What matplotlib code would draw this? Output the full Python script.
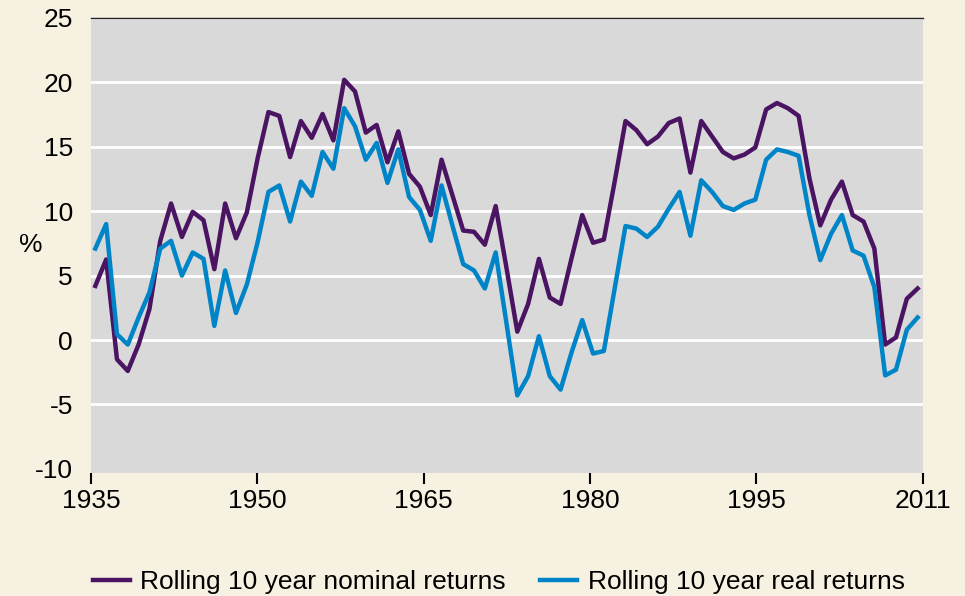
import numpy as np
import matplotlib
matplotlib.use("Agg")
from matplotlib import pyplot as plt

plt.rcParams['font.family'] = ['Liberation Sans', 'DejaVu Sans']

years = np.arange(1935, 2012)
nominal = [4.2, 6.25, -1.5, -2.4, -0.35, 2.4, 7.7, 10.6, 8.0, 9.95,
           9.3, 5.5, 10.6, 7.9, 9.9, 14.1, 17.7, 17.4, 14.2, 17.0,
           15.7, 17.55, 15.5, 20.2, 19.3, 16.1, 16.7, 13.8, 16.2, 12.9,
           11.9, 9.7, 14.0, 11.25, 8.5, 8.4, 7.4, 10.4, 5.6, 0.65,
           2.8, 6.3, 3.3, 2.8, 6.3, 9.7, 7.55, 7.8, 12.3, 17.0,
           16.3, 15.2, 15.8, 16.85, 17.2, 13.0, 17.0, 15.8, 14.6, 14.1,
           14.4, 14.95, 17.9, 18.4, 18.0, 17.4, 12.55, 8.9, 10.9, 12.3,
           9.7, 9.2, 7.1, -0.35, 0.2, 3.2, 4.0]
real = [7.1, 9.0, 0.45, -0.35, 1.75, 3.7, 7.1, 7.7, 5.0, 6.8,
        6.3, 1.1, 5.4, 2.1, 4.3, 7.6, 11.5, 12.0, 9.2, 12.3,
        11.2, 14.6, 13.3, 18.0, 16.6, 14.0, 15.3, 12.2, 14.8, 11.1,
        10.1, 7.7, 12.0, 8.9, 5.9, 5.4, 4.0, 6.8, 1.3, -4.3,
        -2.8, 0.3, -2.8, -3.85, -1.0, 1.55, -1.05, -0.85, 4.0, 8.85,
        8.65, 8.0, 8.8, 10.2, 11.5, 8.1, 12.4, 11.5, 10.4, 10.1,
        10.6, 10.9, 14.0, 14.8, 14.6, 14.3, 9.7, 6.2, 8.25, 9.7,
        6.95, 6.55, 4.1, -2.75, -2.3, 0.8, 1.75]
xtick_labels = ['1935', '1950', '1965', '1980', '1995', '2011']
ytick_values = [-10, -5, 0, 5, 10, 15, 20, 25]

purple = '#4a1462'
blue = '#0084c8'
cream = '#f7f1e1'

fig = plt.figure(figsize=(9.65, 5.96), dpi=100, facecolor=cream)
ax = fig.add_axes([91/965, 1-472.7/596, (922.5-91)/965, (472.7-18)/596])
ax.set_facecolor('#d9d9d9')

ax.plot(years, nominal, color=purple, lw=3.2, label='Rolling 10 year nominal returns', zorder=3)
ax.plot(years, real, color=blue, lw=3.2, label='Rolling 10 year real returns', zorder=3)

x0, x1 = 1934.6, 2011.45
ax.set_xlim(x0, x1)
ax.set_ylim(-10.3, 25)
ax.set_xticks(np.linspace(x0, x1, len(xtick_labels)))
ax.set_xticklabels(xtick_labels)
ax.set_yticks(ytick_values)
ax.set_yticklabels([str(v) for v in ytick_values])

ax.yaxis.grid(True, color='white', lw=2)
ax.set_axisbelow(True)
ax.yaxis.get_gridlines()[0].set_visible(False)

for s in ['left', 'right', 'bottom']:
    ax.spines[s].set_visible(False)
ax.spines['top'].set_color('#222222')
ax.spines['top'].set_linewidth(1)

ax.tick_params(axis='y', length=0, pad=13, labelsize=19)
ax.tick_params(axis='x', length=8, width=1.5, direction='out', pad=4, labelsize=19)

ax.set_ylabel('%', rotation=0, fontsize=19, va='center', ha='center')
ax.yaxis.set_label_coords(-0.072, 0.5)

fig.legend(loc='center', bbox_to_anchor=(0.517, 0.023), ncol=2, frameon=False,
           fontsize=19, handlelength=1.4, handletextpad=0.4, columnspacing=1.3)

fig.savefig('out.png', dpi=100, facecolor=cream)
